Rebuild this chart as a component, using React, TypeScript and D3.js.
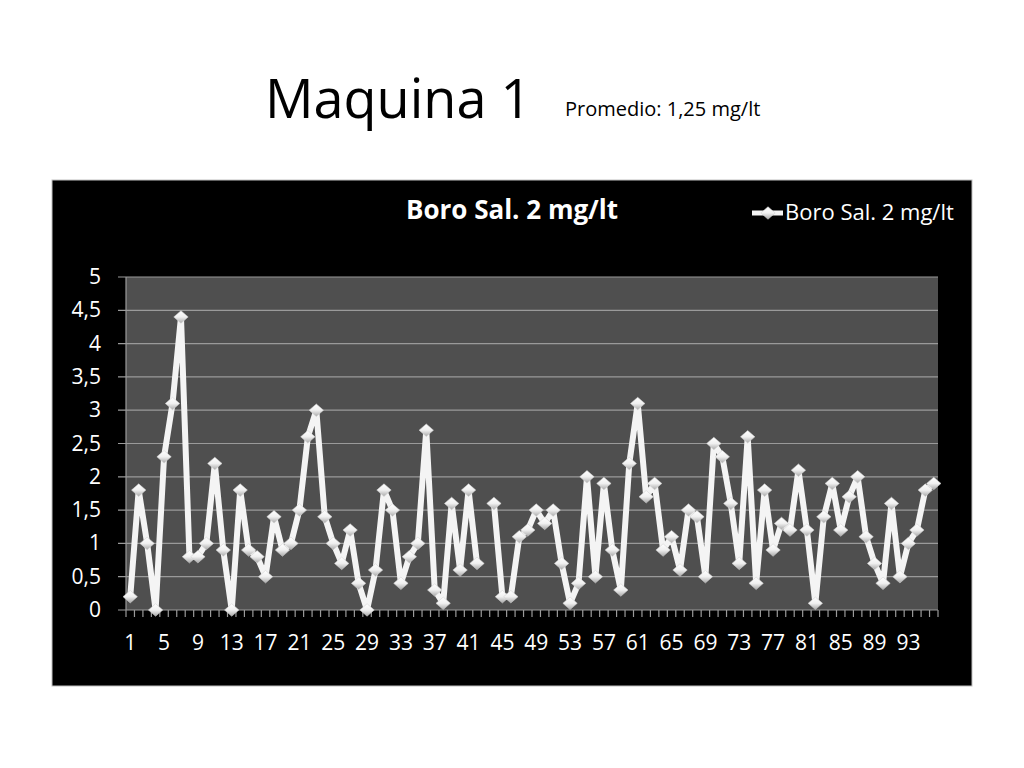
import { useEffect, useRef } from 'react';
import * as d3 from 'd3';

// Boro Sal. 2 mg/lt, one reading per sample (sample 43 has no value)
const boroValues: (number | null)[] = [
  0.2, 1.8, 1.0, 0.0, 2.3, 3.1, 4.4, 0.8, 0.8, 1.0,
  2.2, 0.9, 0.0, 1.8, 0.9, 0.8, 0.5, 1.4, 0.9, 1.0,
  1.5, 2.6, 3.0, 1.4, 1.0, 0.7, 1.2, 0.4, 0.0, 0.6,
  1.8, 1.5, 0.4, 0.8, 1.0, 2.7, 0.3, 0.1, 1.6, 0.6,
  1.8, 0.7, null, 1.6, 0.2, 0.2, 1.1, 1.2, 1.5, 1.3,
  1.5, 0.7, 0.1, 0.4, 2.0, 0.5, 1.9, 0.9, 0.3, 2.2,
  3.1, 1.7, 1.9, 0.9, 1.1, 0.6, 1.5, 1.4, 0.5, 2.5,
  2.3, 1.6, 0.7, 2.6, 0.4, 1.8, 0.9, 1.3, 1.2, 2.1,
  1.2, 0.1, 1.4, 1.9, 1.2, 1.7, 2.0, 1.1, 0.7, 0.4,
  1.6, 0.5, 1.0, 1.2, 1.8, 1.9,
];
const categories = boroValues.map((_, i) => String(i + 1));
const yTicks = [0, 0.5, 1, 1.5, 2, 2.5, 3, 3.5, 4, 4.5, 5];
const seriesName = 'Boro Sal. 2 mg/lt';

const FONT = '"Open Sans", Lato, sans-serif';

export default function App() {
  const ref = useRef<SVGSVGElement>(null);

  useEffect(() => {
    const svgElement = ref.current;
    if (!svgElement) return;
    const svg = d3.select(svgElement);
    svg.selectAll('*').remove();

    const width = 1024;
    const height = 768;
    const plot = { left: 126, right: 938, top: 277, bottom: 610 };

    svg.attr('viewBox', `0 0 ${width} ${height}`);

    const defs = svg.append('defs');
    const grad = defs
      .append('linearGradient')
      .attr('id', 'markerGrad')
      .attr('x1', 0)
      .attr('y1', 0)
      .attr('x2', 0)
      .attr('y2', 1);
    grad.append('stop').attr('offset', '0%').attr('stop-color', '#ffffff');
    grad.append('stop').attr('offset', '50%').attr('stop-color', '#f0f0f0');
    grad.append('stop').attr('offset', '100%').attr('stop-color', '#a8a8a8');

    svg.append('rect').attr('width', width).attr('height', height).attr('fill', '#ffffff');

    // slide title
    svg
      .append('text')
      .attr('x', 265)
      .attr('y', 118)
      .attr('font-family', FONT)
      .attr('font-size', 54)
      .attr('fill', '#000')
      .text('Maquina 1');
    svg
      .append('text')
      .attr('x', 565)
      .attr('y', 116)
      .attr('font-family', FONT)
      .attr('font-size', 20)
      .attr('fill', '#000')
      .text('Promedio: 1,25 mg/lt');

    // chart box
    svg
      .append('rect')
      .attr('x', 52)
      .attr('y', 180)
      .attr('width', 920)
      .attr('height', 506)
      .attr('fill', '#000')
      .attr('stroke', '#bfbfbf')
      .attr('stroke-width', 1);

    svg
      .append('text')
      .attr('x', 512)
      .attr('y', 219)
      .attr('text-anchor', 'middle')
      .attr('font-family', FONT)
      .attr('font-weight', 'bold')
      .attr('font-size', 26)
      .attr('fill', '#fff')
      .text(seriesName);

    const x = d3
      .scaleBand<string>()
      .domain(categories)
      .range([plot.left, plot.right])
      .padding(0);
    const cx = (c: string) => (x(c) ?? 0) + x.bandwidth() / 2;

    const y = d3.scaleLinear().domain([0, 5]).range([plot.bottom, plot.top]);

    svg
      .append('rect')
      .attr('x', plot.left)
      .attr('y', plot.top)
      .attr('width', plot.right - plot.left)
      .attr('height', plot.bottom - plot.top)
      .attr('fill', '#4f4f4f');

    // gridlines
    svg
      .append('g')
      .selectAll('line')
      .data(yTicks)
      .join('line')
      .attr('x1', plot.left - 8)
      .attr('x2', plot.right)
      .attr('y1', (d: number) => y(d))
      .attr('y2', (d: number) => y(d))
      .attr('stroke', '#9a9a9a')
      .attr('stroke-width', 1.2);

    // y axis
    svg
      .append('line')
      .attr('x1', plot.left)
      .attr('x2', plot.left)
      .attr('y1', plot.top)
      .attr('y2', plot.bottom)
      .attr('stroke', '#9a9a9a')
      .attr('stroke-width', 1.2);

    svg
      .append('g')
      .selectAll('text')
      .data(yTicks)
      .join('text')
      .attr('x', 101)
      .attr('y', (d: number) => y(d) + 7)
      .attr('text-anchor', 'end')
      .attr('font-family', FONT)
      .attr('font-size', 21)
      .attr('fill', '#fff')
      .text((d: number) => d3.format('.2~f')(d).replace('.', ','));

    // x axis ticks between categories
    const boundaries = [...categories.map((c) => x(c) ?? 0), plot.right];
    svg
      .append('g')
      .selectAll('line')
      .data(boundaries)
      .join('line')
      .attr('x1', (d: number) => d)
      .attr('x2', (d: number) => d)
      .attr('y1', plot.bottom)
      .attr('y2', plot.bottom + 7)
      .attr('stroke', '#9a9a9a')
      .attr('stroke-width', 1.2);

    svg
      .append('g')
      .selectAll('text')
      .data(categories.filter((_, i) => i % 4 === 0))
      .join('text')
      .attr('x', (c: string) => cx(c))
      .attr('y', 650)
      .attr('text-anchor', 'middle')
      .attr('font-family', FONT)
      .attr('font-size', 21)
      .attr('fill', '#fff')
      .text((c: string) => c);

    // series line
    const points = boroValues.map((v, i) => ({ c: categories[i], v }));
    const line = d3
      .line<{ c: string; v: number | null }>()
      .defined((d) => d.v !== null)
      .x((d) => cx(d.c))
      .y((d) => y(d.v ?? 0));

    svg
      .append('path')
      .datum(points)
      .attr('d', line)
      .attr('fill', 'none')
      .attr('stroke', '#f4f4f4')
      .attr('stroke-width', 6)
      .attr('stroke-linejoin', 'round')
      .attr('stroke-linecap', 'round');

    const diamond = d3.symbol().type(d3.symbolDiamond2).size(100);

    svg
      .append('g')
      .selectAll('path')
      .data(points.filter((p) => p.v !== null))
      .join('path')
      .attr('transform', (p) => `translate(${cx(p.c)},${y(p.v ?? 0)}) scale(1.15,1)`)
      .attr('d', diamond)
      .attr('fill', 'url(#markerGrad)')
      .attr('stroke', '#d0d0d0')
      .attr('stroke-width', 0.5);

    // legend
    const legend = svg.append('g').attr('transform', 'translate(752,213)');
    legend
      .append('line')
      .attr('x1', 0)
      .attr('x2', 31)
      .attr('stroke', '#f4f4f4')
      .attr('stroke-width', 5);
    legend
      .append('path')
      .attr('transform', 'translate(16,0) scale(1.15,1)')
      .attr('d', diamond)
      .attr('fill', 'url(#markerGrad)')
      .attr('stroke', '#d0d0d0')
      .attr('stroke-width', 0.5);
    legend
      .append('text')
      .attr('x', 33)
      .attr('y', 7)
      .attr('font-family', FONT)
      .attr('font-size', 22)
      .attr('fill', '#fff')
      .text(seriesName);
  }, []);

  return (
    <svg
      ref={ref}
      width={1024}
      height={768}
      style={{ position: 'absolute', top: 0, left: 0, display: 'block' }}
    />
  );
}
